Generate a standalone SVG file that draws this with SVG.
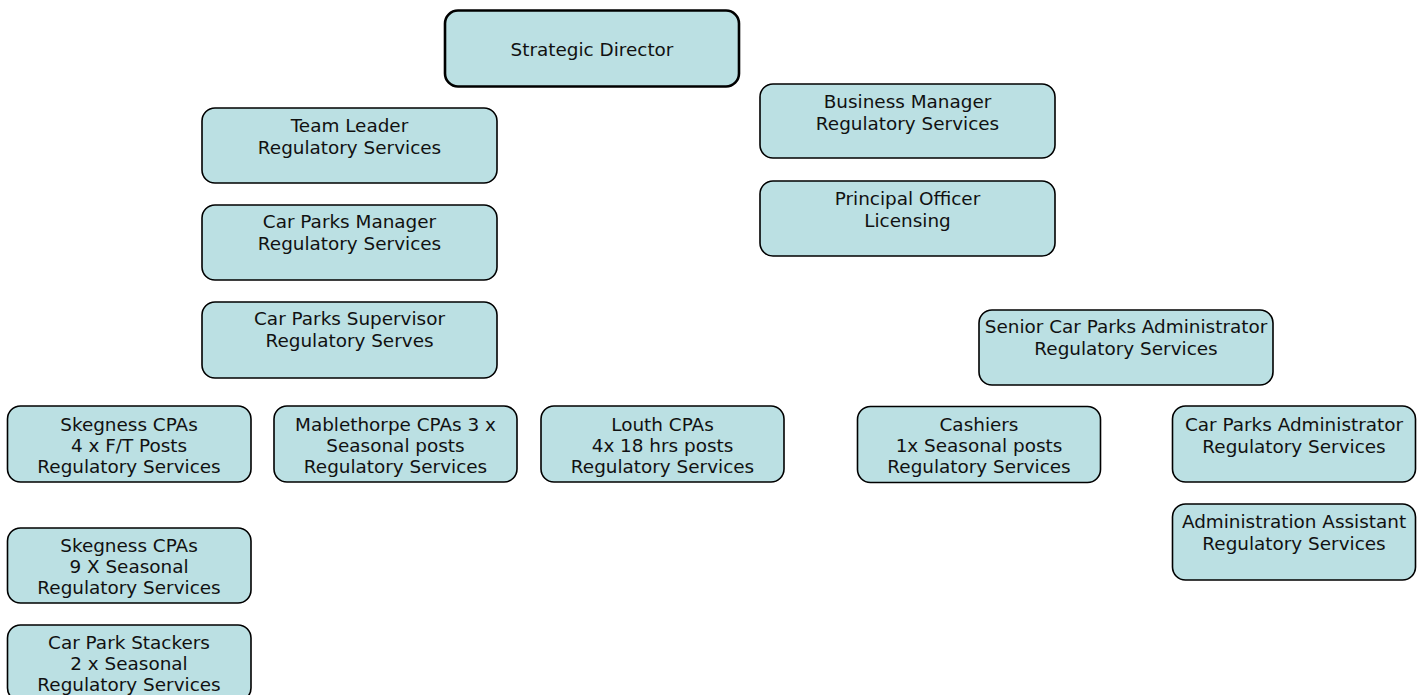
<svg xmlns="http://www.w3.org/2000/svg" width="1423" height="695" viewBox="0 0 1423 695">
<style>
.box{fill:#bbe0e3;stroke:#000;stroke-width:1.6}
.top{stroke-width:2.6}
text{font-family:"DejaVu Sans","Verdana",sans-serif;font-size:18.4px;fill:#111;text-anchor:middle}
</style>
<rect width="1423" height="695" fill="#fff"/>
<g id="connectors"></g>
<g id="n-strategic-director"><rect class="box top" x="445" y="10.5" width="294" height="76" rx="13"/><text x="592" y="56">Strategic Director</text></g>
<g id="n-business-manager"><rect class="box" x="760" y="84" width="295" height="74" rx="13"/><text x="907.5" y="108">Business Manager</text><text x="907.5" y="129.5">Regulatory Services</text></g>
<g id="n-principal-officer"><rect class="box" x="760" y="181" width="295" height="75" rx="13"/><text x="907.5" y="205">Principal Officer</text><text x="907.5" y="226.5">Licensing</text></g>
<g id="n-team-leader"><rect class="box" x="202" y="108" width="295" height="75" rx="13"/><text x="349.5" y="132">Team Leader</text><text x="349.5" y="153.5">Regulatory Services</text></g>
<g id="n-car-parks-manager"><rect class="box" x="202" y="205" width="295" height="75" rx="13"/><text x="349.5" y="228">Car Parks Manager</text><text x="349.5" y="249.5">Regulatory Services</text></g>
<g id="n-car-parks-supervisor"><rect class="box" x="202" y="302" width="295" height="76" rx="13"/><text x="349.5" y="325">Car Parks Supervisor</text><text x="349.5" y="346.5">Regulatory Serves</text></g>
<g id="n-senior-admin"><rect class="box" x="979" y="310" width="294" height="75" rx="13"/><text x="1126" y="333">Senior Car Parks Administrator</text><text x="1126" y="354.5">Regulatory Services</text></g>
<g id="n-skegness-ft"><rect class="box" x="7.5" y="406" width="243.5" height="76" rx="13"/><text x="129" y="431">Skegness CPAs</text><text x="129" y="452">4 x F/T Posts</text><text x="129" y="473">Regulatory Services</text></g>
<g id="n-mablethorpe"><rect class="box" x="274" y="406" width="243" height="76" rx="13"/><text x="395.5" y="431">Mablethorpe CPAs 3 x</text><text x="395.5" y="452">Seasonal posts</text><text x="395.5" y="473">Regulatory Services</text></g>
<g id="n-louth"><rect class="box" x="541" y="406" width="243" height="76" rx="13"/><text x="662.5" y="431">Louth CPAs</text><text x="662.5" y="452">4x 18 hrs posts</text><text x="662.5" y="473">Regulatory Services</text></g>
<g id="n-cashiers"><rect class="box" x="857.5" y="406.5" width="243" height="76" rx="13"/><text x="979" y="431">Cashiers</text><text x="979" y="452">1x Seasonal posts</text><text x="979" y="473">Regulatory Services</text></g>
<g id="n-car-parks-admin"><rect class="box" x="1172.5" y="406" width="243" height="76" rx="13"/><text x="1294" y="431">Car Parks Administrator</text><text x="1294" y="452.5">Regulatory Services</text></g>
<g id="n-admin-assistant"><rect class="box" x="1172.5" y="504" width="243" height="76" rx="13"/><text x="1294" y="528">Administration Assistant</text><text x="1294" y="549.5">Regulatory Services</text></g>
<g id="n-skegness-seasonal"><rect class="box" x="7.5" y="528" width="243.5" height="75" rx="13"/><text x="129" y="552">Skegness CPAs</text><text x="129" y="573">9 X Seasonal</text><text x="129" y="594">Regulatory Services</text></g>
<g id="n-stackers"><rect class="box" x="7.5" y="625" width="243.5" height="76" rx="13"/><text x="129" y="649">Car Park Stackers</text><text x="129" y="670">2 x Seasonal</text><text x="129" y="691">Regulatory Services</text></g>
</svg>
